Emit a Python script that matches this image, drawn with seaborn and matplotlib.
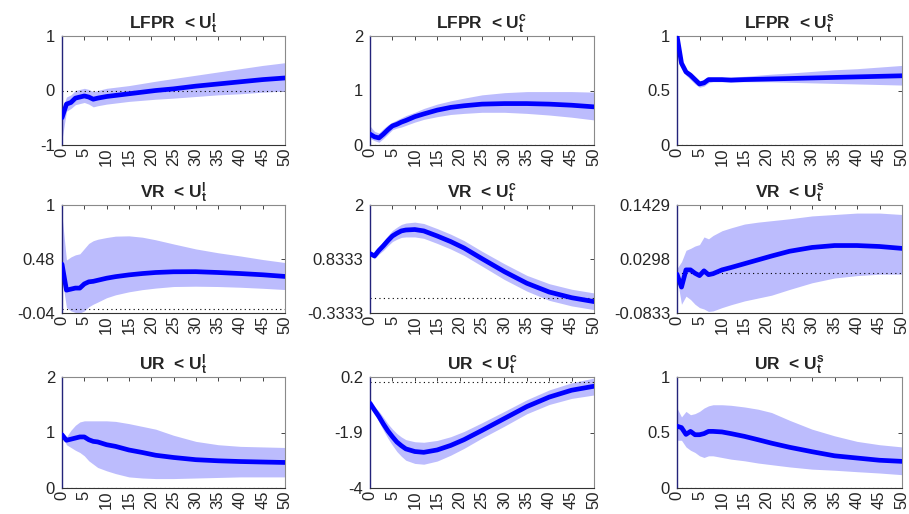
import matplotlib
matplotlib.use("Agg")
import matplotlib.pyplot as plt
import seaborn as sns
import pandas as pd

sns.set_style("white")
plt.rcParams['font.family'] = ['Liberation Sans', 'DejaVu Sans']
plt.rcParams['mathtext.fontset'] = 'custom'
plt.rcParams['mathtext.bf'] = 'Liberation Sans:bold'
plt.rcParams['mathtext.rm'] = 'Liberation Sans'

horizon = [0, 1, 2, 3, 4, 5, 6, 7, 8, 10, 12, 15, 18, 21, 25, 30, 35, 40, 45, 50]

titles = [r"LFPR  < $\mathbf{U_t^l}$", r"LFPR  < $\mathbf{U_t^c}$", r"LFPR  < $\mathbf{U_t^s}$",
          r"VR  < $\mathbf{U_t^l}$", r"VR  < $\mathbf{U_t^c}$", r"VR  < $\mathbf{U_t^s}$",
          r"UR  < $\mathbf{U_t^l}$", r"UR  < $\mathbf{U_t^c}$", r"UR  < $\mathbf{U_t^s}$"]

lfpr_l_mean = [-0.5, -0.25, -0.22, -0.14, -0.12, -0.10, -0.12, -0.16, -0.14, -0.11, -0.09, -0.06, -0.03, 0.0, 0.03, 0.08, 0.12, 0.16, 0.20, 0.23]
lfpr_l_hi = [-0.35, -0.12, -0.08, 0.0, 0.02, 0.04, 0.02, -0.02, 0.0, 0.04, 0.06, 0.09, 0.13, 0.17, 0.22, 0.28, 0.34, 0.40, 0.46, 0.51]
lfpr_l_lo = [-0.9, -0.38, -0.33, -0.26, -0.24, -0.22, -0.25, -0.30, -0.28, -0.25, -0.23, -0.20, -0.18, -0.16, -0.14, -0.11, -0.08, -0.06, -0.03, -0.01]

lfpr_c_mean = [0.2, 0.15, 0.13, 0.2, 0.28, 0.35, 0.38, 0.42, 0.45, 0.52, 0.57, 0.64, 0.69, 0.72, 0.75, 0.76, 0.76, 0.75, 0.73, 0.70]
lfpr_c_hi = [0.35, 0.25, 0.22, 0.3, 0.37, 0.42, 0.46, 0.5, 0.54, 0.6, 0.67, 0.75, 0.81, 0.86, 0.92, 0.96, 0.98, 0.98, 0.98, 0.97]
lfpr_c_lo = [0.12, 0.08, 0.05, 0.12, 0.2, 0.28, 0.31, 0.33, 0.36, 0.42, 0.47, 0.52, 0.56, 0.58, 0.6, 0.6, 0.58, 0.55, 0.51, 0.46]

lfpr_s_mean = [1.0, 0.75, 0.67, 0.64, 0.6, 0.56, 0.57, 0.6, 0.6, 0.6, 0.595, 0.6, 0.603, 0.606, 0.61, 0.615, 0.62, 0.625, 0.63, 0.635]
lfpr_s_hi = [1.0, 0.77, 0.69, 0.67, 0.63, 0.59, 0.60, 0.62, 0.62, 0.62, 0.625, 0.63, 0.64, 0.65, 0.66, 0.675, 0.69, 0.70, 0.715, 0.73]
lfpr_s_lo = [0.98, 0.72, 0.64, 0.6, 0.56, 0.53, 0.54, 0.57, 0.58, 0.58, 0.58, 0.58, 0.58, 0.58, 0.575, 0.57, 0.565, 0.56, 0.555, 0.55]

vr_l_mean = [0.43, 0.18, 0.19, 0.2, 0.2, 0.24, 0.26, 0.265, 0.275, 0.295, 0.31, 0.327, 0.34, 0.35, 0.357, 0.358, 0.35, 0.34, 0.328, 0.312]
vr_l_hi = [0.9, 0.47, 0.5, 0.52, 0.53, 0.58, 0.63, 0.656, 0.67, 0.687, 0.70, 0.703, 0.69, 0.665, 0.625, 0.577, 0.54, 0.509, 0.475, 0.446]
vr_l_lo = [0.3, 0.013, -0.02, -0.035, -0.04, -0.02, 0.02, 0.045, 0.065, 0.107, 0.135, 0.164, 0.185, 0.2, 0.215, 0.218, 0.215, 0.208, 0.198, 0.186]

vr_c_mean = [0.95, 0.90, 1.02, 1.12, 1.23, 1.33, 1.39, 1.44, 1.46, 1.47, 1.44, 1.33, 1.21, 1.07, 0.84, 0.56, 0.31, 0.12, -0.003, -0.087]
vr_c_hi = [1.0, 0.96, 1.10, 1.22, 1.34, 1.45, 1.52, 1.58, 1.61, 1.63, 1.60, 1.49, 1.37, 1.23, 1.00, 0.73, 0.48, 0.30, 0.18, 0.10]
vr_c_lo = [0.90, 0.84, 0.94, 1.02, 1.12, 1.21, 1.26, 1.30, 1.31, 1.31, 1.28, 1.17, 1.05, 0.91, 0.68, 0.39, 0.14, -0.06, -0.18, -0.26]

vr_s_mean = [-0.002, -0.029, 0.007, 0.007, 0.0, -0.005, 0.005, -0.003, -0.001, 0.007, 0.012, 0.020, 0.028, 0.036, 0.046, 0.054, 0.058, 0.058, 0.056, 0.052]
vr_s_hi = [0.01, 0.024, 0.048, 0.052, 0.057, 0.060, 0.076, 0.072, 0.079, 0.089, 0.095, 0.103, 0.107, 0.110, 0.114, 0.120, 0.123, 0.126, 0.126, 0.123]
vr_s_lo = [-0.01, -0.065, -0.048, -0.055, -0.065, -0.072, -0.075, -0.080, -0.079, -0.072, -0.066, -0.058, -0.052, -0.046, -0.034, -0.020, -0.010, -0.005, -0.002, -0.002]

ur_l_mean = [0.96, 0.86, 0.88, 0.90, 0.92, 0.92, 0.87, 0.84, 0.83, 0.78, 0.75, 0.685, 0.64, 0.59, 0.55, 0.51, 0.49, 0.477, 0.468, 0.46]
ur_l_hi = [0.97, 0.92, 1.04, 1.13, 1.19, 1.21, 1.21, 1.21, 1.21, 1.21, 1.20, 1.16, 1.11, 1.06, 0.95, 0.84, 0.78, 0.75, 0.74, 0.73]
ur_l_lo = [0.95, 0.78, 0.73, 0.68, 0.64, 0.58, 0.49, 0.43, 0.37, 0.31, 0.26, 0.20, 0.18, 0.17, 0.17, 0.18, 0.19, 0.20, 0.20, 0.20]

ur_c_mean = [-0.79, -1.05, -1.30, -1.58, -1.84, -2.06, -2.26, -2.40, -2.52, -2.62, -2.65, -2.56, -2.39, -2.17, -1.82, -1.37, -0.92, -0.56, -0.30, -0.15]
ur_c_hi = [-0.74, -0.92, -1.10, -1.33, -1.57, -1.77, -1.94, -2.07, -2.17, -2.25, -2.27, -2.20, -2.06, -1.86, -1.53, -1.10, -0.66, -0.29, -0.02, 0.16]
ur_c_lo = [-0.84, -1.18, -1.50, -1.82, -2.12, -2.38, -2.62, -2.80, -2.95, -3.07, -3.10, -2.98, -2.76, -2.50, -2.11, -1.66, -1.19, -0.84, -0.61, -0.48]

ur_s_mean = [0.557, 0.544, 0.483, 0.51, 0.48, 0.48, 0.49, 0.51, 0.51, 0.505, 0.49, 0.465, 0.435, 0.404, 0.367, 0.327, 0.29, 0.27, 0.25, 0.24]
ur_s_hi = [0.72, 0.64, 0.69, 0.66, 0.67, 0.69, 0.72, 0.74, 0.75, 0.75, 0.745, 0.73, 0.71, 0.68, 0.61, 0.53, 0.47, 0.42, 0.39, 0.37]
ur_s_lo = [0.43, 0.43, 0.37, 0.34, 0.32, 0.29, 0.275, 0.29, 0.29, 0.275, 0.26, 0.245, 0.225, 0.21, 0.19, 0.17, 0.16, 0.147, 0.135, 0.12]

means = [lfpr_l_mean, lfpr_c_mean, lfpr_s_mean, vr_l_mean, vr_c_mean, vr_s_mean, ur_l_mean, ur_c_mean, ur_s_mean]
his = [lfpr_l_hi, lfpr_c_hi, lfpr_s_hi, vr_l_hi, vr_c_hi, vr_s_hi, ur_l_hi, ur_c_hi, ur_s_hi]
los = [lfpr_l_lo, lfpr_c_lo, lfpr_s_lo, vr_l_lo, vr_c_lo, vr_s_lo, ur_l_lo, ur_c_lo, ur_s_lo]

yticks = [[-1, 0, 1], [0, 1, 2], [0, 0.5, 1],
          [-0.04, 0.48, 1], [-0.3333, 0.8333, 2], [-0.0833, 0.0298, 0.1429],
          [0, 1, 2], [-4, -1.9, 0.2], [0, 0.5, 1]]
ytick_labels = [["-1", "0", "1"], ["0", "1", "2"], ["0", "0.5", "1"],
                ["-0.04", "0.48", "1"], ["-0.3333", "0.8333", "2"], ["-0.0833", "0.0298", "0.1429"],
                ["0", "1", "2"], ["-4", "-1.9", "0.2"], ["0", "0.5", "1"]]
xticks = list(range(0, 51, 5))

W, H = 909, 514
fig = plt.figure(figsize=(W / 100, H / 100), dpi=100)
col_left = [62, 370, 677]
col_width = [223, 224, 225]
row_top = [36, 205, 377]
row_height = [109, 108, 111]

for i in range(9):
    r, c = divmod(i, 3)
    ax = fig.add_axes([col_left[c] / W, 1 - (row_top[r] + row_height[r]) / H,
                       col_width[c] / W, row_height[r] / H])
    df = pd.DataFrame({"h": horizon, "m": means[i], "lo": los[i], "hi": his[i]})
    ax.fill_between(df["h"], df["lo"], df["hi"], color="#bcbcfd", linewidth=0, zorder=1)
    ax.axhline(0, color="black", linestyle=(0, (1, 3)), linewidth=0.8, zorder=2)
    sns.lineplot(data=df, x="h", y="m", ax=ax, color="#0000ff", linewidth=3.4, zorder=3)
    ax.set_xlim(0, 50)
    ax.set_ylim(yticks[i][0], yticks[i][-1])
    ax.set_xticks(xticks)
    ax.set_xticklabels([str(t) for t in xticks], rotation=90)
    ax.set_yticks(yticks[i])
    ax.set_yticklabels(ytick_labels[i])
    ax.set_xlabel("")
    ax.set_ylabel("")
    ax.tick_params(direction="in", length=3, width=0.6, labelsize=12, colors="#262626",
                   top=True, right=True, pad=2)
    ax.tick_params(axis="y", pad=5)
    for s in ["top", "right"]:
        ax.spines[s].set_color("#8a8a8a")
        ax.spines[s].set_linewidth(0.8)
    ax.spines["bottom"].set_color("#333333")
    ax.spines["bottom"].set_linewidth(0.8)
    ax.spines["left"].set_color("#23237a")
    ax.spines["left"].set_linewidth(1.0)
    ax.set_title(titles[i], fontsize=12.5, fontweight="bold", pad=5)

fig.savefig("out.png", dpi=100)
